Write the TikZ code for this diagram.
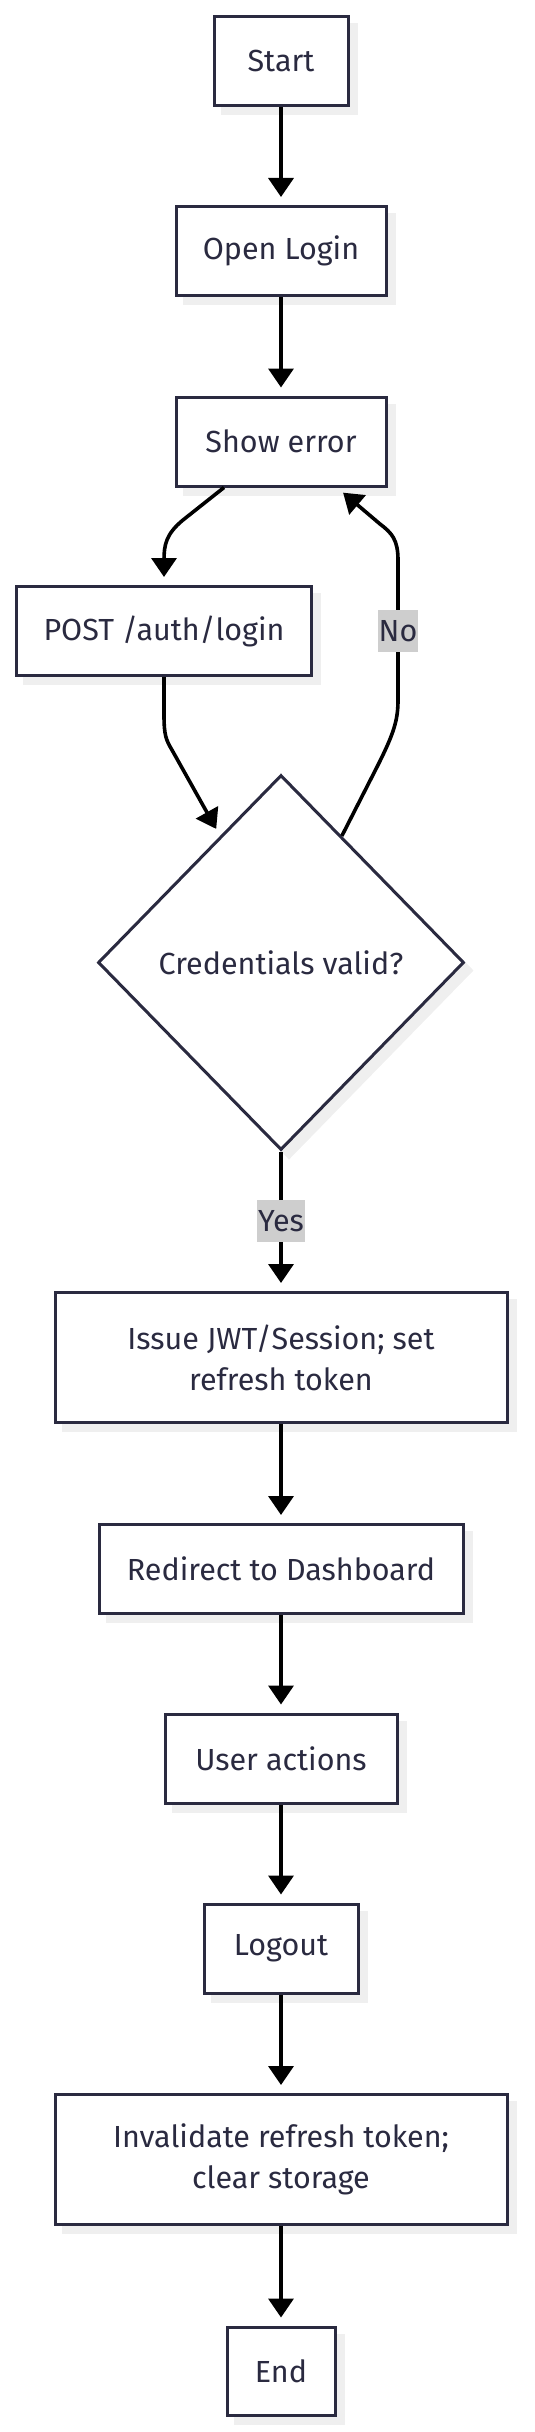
\documentclass[tikz,border=0pt]{standalone}
\usepackage{fontspec}
\setmainfont{Fira Sans}
\usetikzlibrary{arrows.meta,shapes.geometric,calc}
\definecolor{bordc}{RGB}{42,42,64}
\definecolor{textc}{RGB}{42,42,64}
\definecolor{shadc}{RGB}{239,239,239}
\definecolor{lblc}{RGB}{206,206,206}
\begin{document}
\begin{tikzpicture}[x=1pt,y=-1pt,
  shad/.style={preaction={draw=shadc, fill=shadc, line width=3pt, transform canvas={shift={(8pt,-8pt)}}}},
  box/.style={shad, draw=bordc, line width=3pt, fill=white, inner sep=0pt, text=textc,
    font=\fontsize{30.5}{41}\selectfont, align=center, minimum height=89pt},
  dbox/.style={box, minimum height=130pt},
  dec/.style={box, diamond, minimum width=366pt, minimum height=375pt},
  arr/.style={draw=black, line width=3.6pt, -{Triangle[width=25pt,length=19pt]}, shorten >=8pt},
  lbl/.style={fill=lblc, text=textc, font=\fontsize{30.5}{36}\selectfont, inner xsep=1pt, inner ysep=0pt, minimum height=42pt}
]
\useasboundingbox (0,0) rectangle (535,2432);
\node[box, minimum width=134pt] (start) at (281,61) {Start};
\node[box, minimum width=210pt] (open) at (281,251) {Open Login};
\node[box, minimum width=210pt] (serr) at (281,441.5) {Show error};
\node[box, minimum width=295pt] (post) at (164,631) {POST /auth/login};
\node[dec] (dia) at (281,962.5) {Credentials valid?};
\node[dbox, minimum width=452pt] (issue) at (281,1357.5) {Issue JWT/Session; set\\refresh token};
\node[box, minimum width=364pt] (redir) at (281,1569) {Redirect to Dashboard};
\node[box, minimum width=232pt] (user) at (281,1758.5) {User actions};
\node[box, minimum width=154pt] (logout) at (281,1948.5) {Logout};
\node[dbox, minimum width=452pt] (inval) at (281,2159.5) {Invalidate refresh token;\\clear storage};
\node[box, minimum width=108pt, minimum height=88pt] (end) at (281,2371) {End};

\draw[arr] (start) -- (open);
\draw[arr] (open) -- (serr);
\draw[arr] ([xshift=-57pt]serr.south) -- (183,520) .. controls (166,534) and (164,545) .. (164,560) -- (post.north);
\draw[arr] (post.south) -- (164,715) .. controls (164,735) and (166,740) .. (172,750) -- ($(dia.north)!0.33!(dia.west)$);
\draw[arr] ($(dia.north)!0.33!(dia.east)$) -- (378,765) .. controls (394,733) and (398,720) .. (398,700) -- (398,560) .. controls (398,540) and (392,533) .. (380,524) -- ([xshift=56pt]serr.south);
\draw[arr] (dia) -- (issue);
\draw[arr] (issue) -- (redir);
\draw[arr] (redir) -- (user);
\draw[arr] (user) -- (logout);
\draw[arr] (logout) -- (inval);
\draw[arr] (inval) -- (end);
\node[lbl, minimum width=36pt] (no) at (398,631) {No};
\node[lbl, minimum width=47pt] (yes) at (281,1221) {Yes};
\end{tikzpicture}
\end{document}
